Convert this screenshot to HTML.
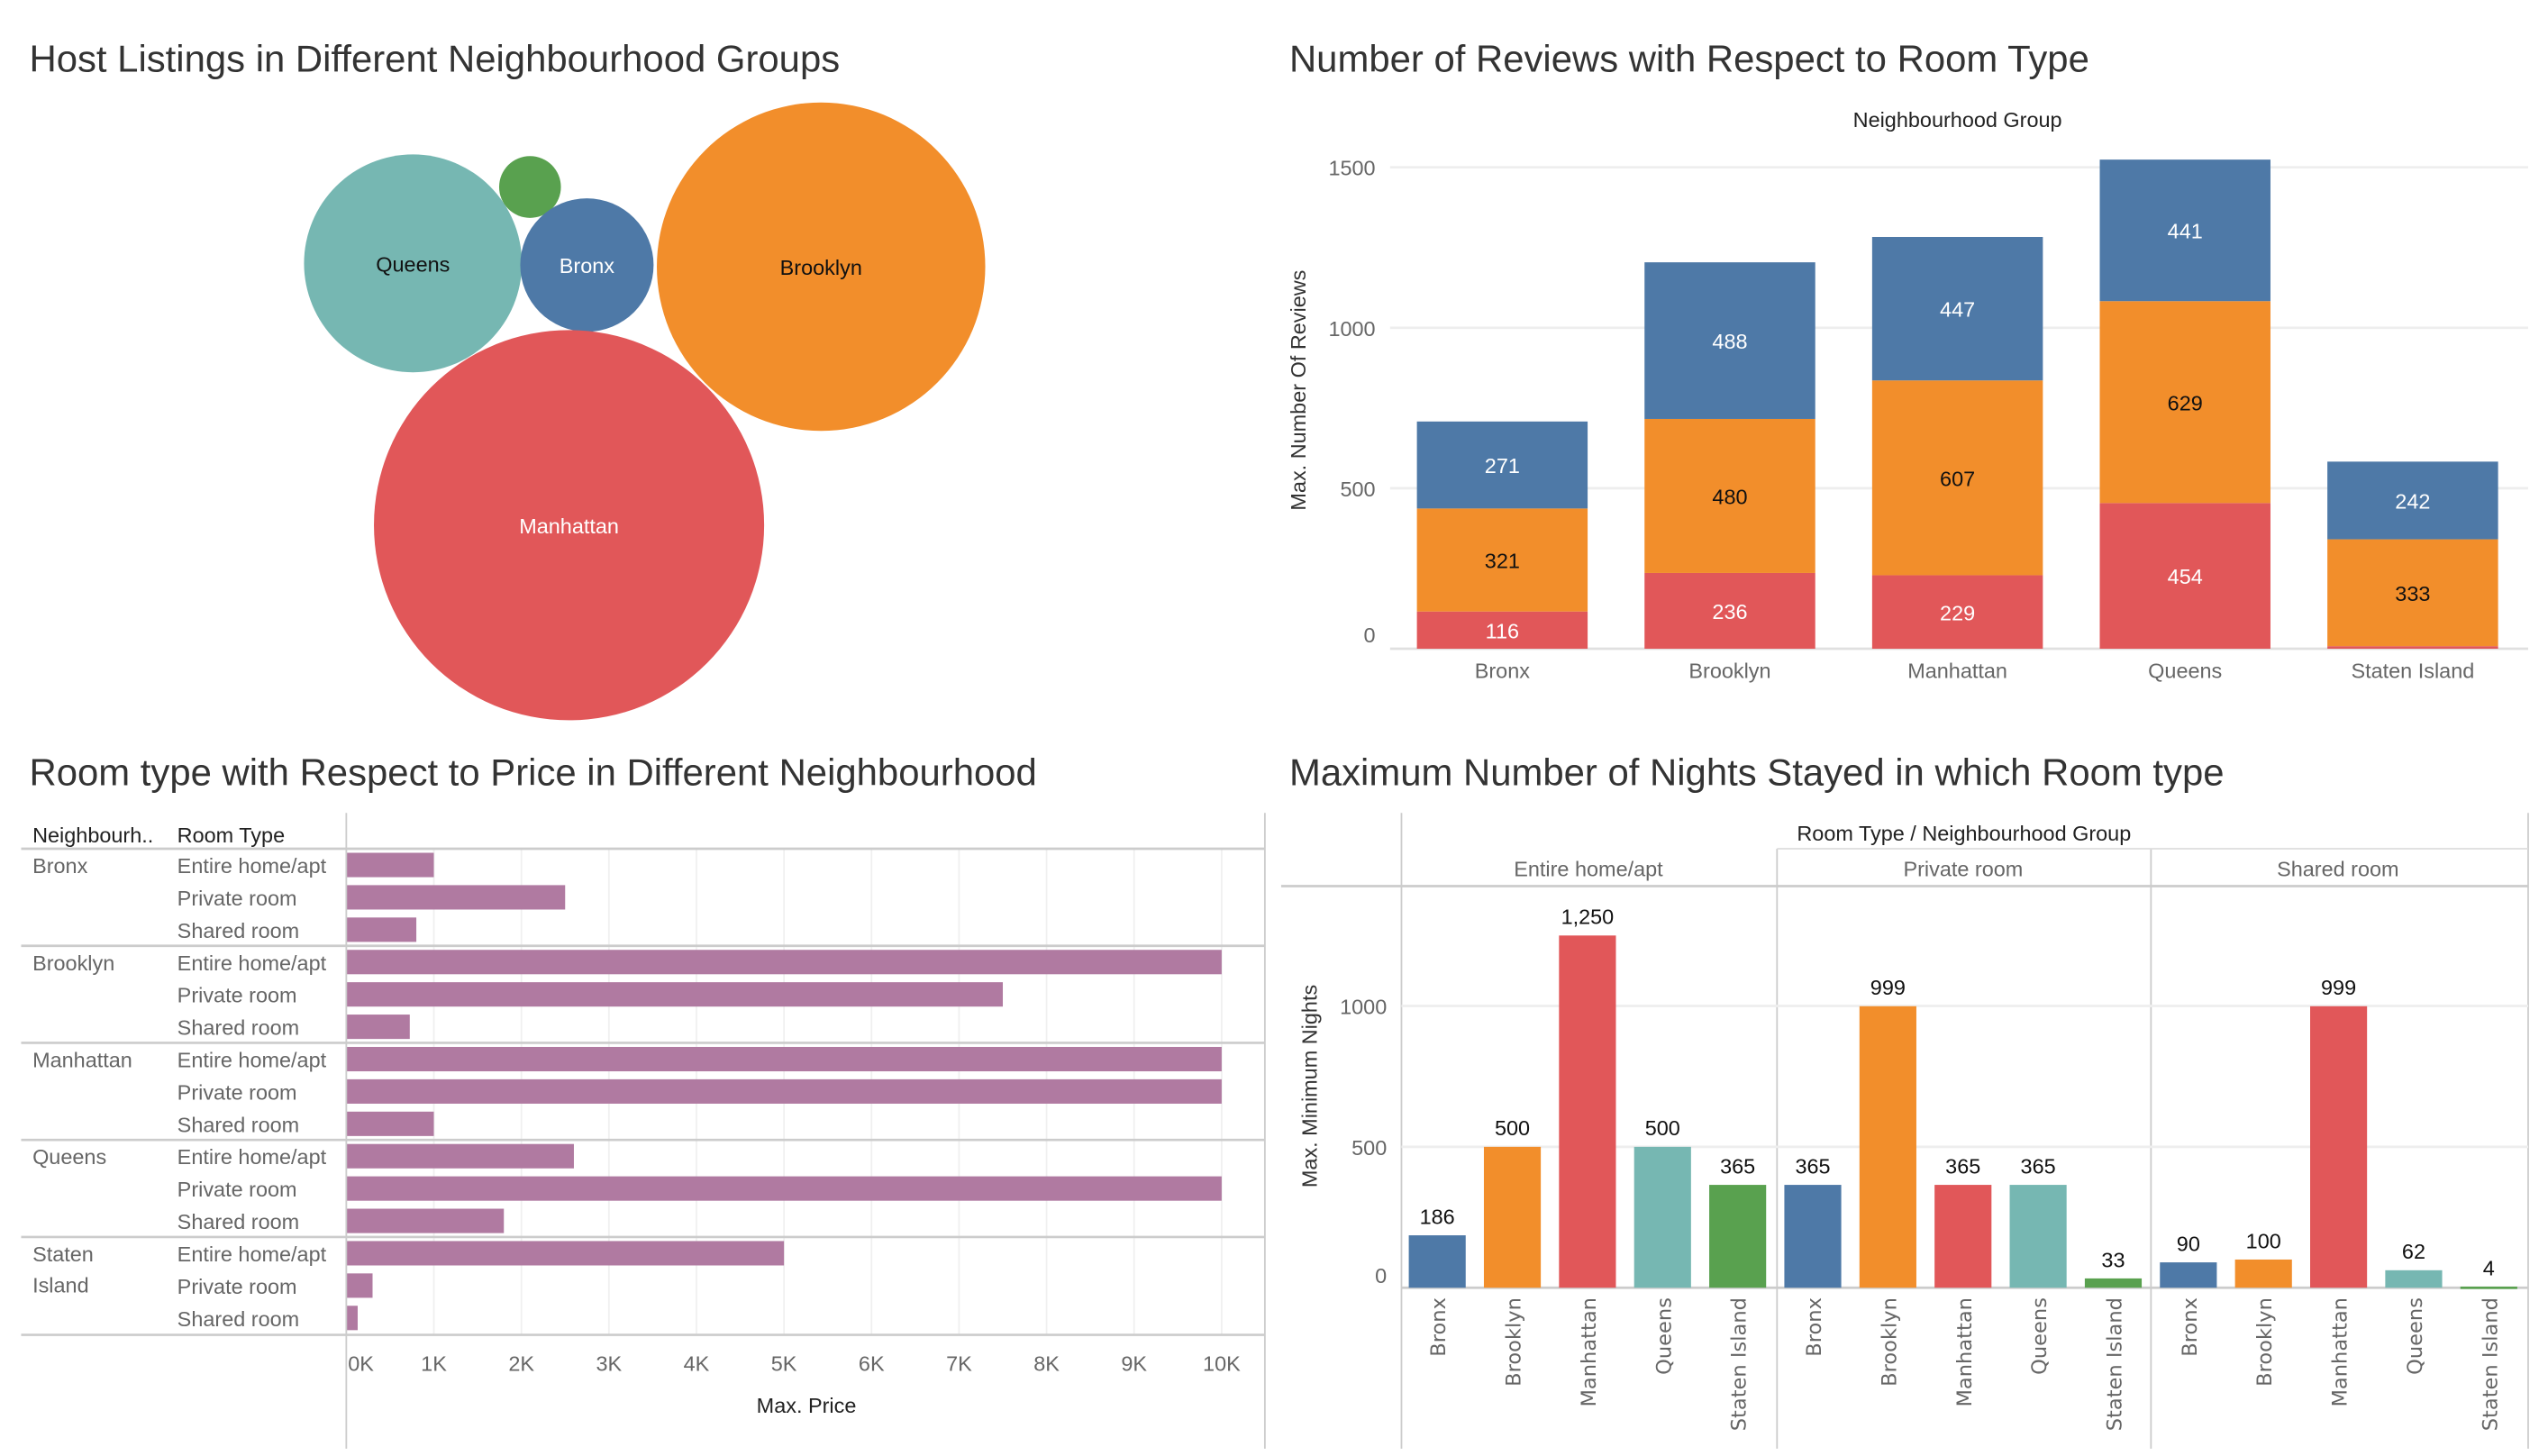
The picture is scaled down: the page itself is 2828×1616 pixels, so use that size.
<!DOCTYPE html>
<html><head><meta charset="utf-8"><style>
html,body{margin:0;padding:0;background:#fff;}
svg{display:block;font-family:"Liberation Sans",sans-serif;}
.title{font-size:23.2px;fill:#333;}
.tick{font-size:13px;fill:#666;}
.hdr{font-size:13px;fill:#222;}
</style></head><body>
<svg id="s" width="2828" height="1616" viewBox="0 0 1567.2 895.5" preserveAspectRatio="none" xmlns="http://www.w3.org/2000/svg">
<text class="title" x="18" y="44">Host Listings in Different Neighbourhood Groups</text>
<text class="title" x="793" y="44">Number of Reviews with Respect to Room Type</text>
<text class="title" x="18" y="483">Room type with Respect to Price in Different Neighbourhood</text>
<text class="title" x="793" y="483">Maximum Number of Nights Stayed in which Room type</text>
<g id="g"></g>
</svg>
<script>
// ---- data ----
const neighs = ['Bronx','Brooklyn','Manhattan','Queens','Staten Island'];
const colors = {'Bronx':'#4e79a7','Brooklyn':'#f28e2b','Manhattan':'#e15759','Queens':'#76b7b2','Staten Island':'#59a14f'};
// bubble
const bubbleNames = ['Queens','Staten Island','Bronx','Brooklyn','Manhattan'];
const bubbleRadius = [67,19,41,101,120];
// reviews stacked
const reviewsRed = [116,236,229,454,8];
const reviewsOrange = [321,480,607,629,333];
const reviewsBlue = [271,488,447,441,242];
const reviewTicks = [0,500,1000,1500];
// price
const roomTypes = ['Entire home/apt','Private room','Shared room'];
const priceBronx = [1000,2500,800];
const priceBrooklyn = [10000,7500,725];
const priceManhattan = [10000,10000,1000];
const priceQueens = [2600,10000,1800];
const priceStaten = [5000,300,130];
const priceTicks = [0,1,2,3,4,5,6,7,8,9,10];
// nights
const nightsEntire = [186,500,1250,500,365];
const nightsPrivate = [365,999,365,365,33];
const nightsShared = [90,100,999,62,4];
const nightsTicks = [0,500,1000];

const g=document.getElementById('g');const NS='http://www.w3.org/2000/svg';
function el(t,a,txt){const e=document.createElementNS(NS,t);for(const k in a)e.setAttribute(k,a[k]);if(txt!==undefined)e.textContent=txt;g.appendChild(e);return e;}

// ---- bubbles ----
const bubblePos=[[254,162],[326,115],[361,163],[505,164],[350,323]];
bubbleNames.forEach((n,i)=>{
 const c=el('circle',{cx:bubblePos[i][0],cy:bubblePos[i][1],r:bubbleRadius[i],fill:colors[n]});
 
 
 if(n!=='Staten Island'){const t=el('text',{x:bubblePos[i][0],y:bubblePos[i][1]+5,'text-anchor':'middle','font-size':13,fill:(n==='Queens'||n==='Brooklyn')?'#111':'#fff'},n);
 
 }
});

// ---- reviews chart ----
const ry=v=>399-v*0.1974; const rx=i=>924+i*140;
let t=el('text',{x:1204,y:78,'text-anchor':'middle',class:'hdr'},'Neighbourhood Group');

reviewTicks.forEach(v=>{
 const l=el('line',{x1:855,x2:1555,y1:ry(v),y2:ry(v),stroke:v?'#eeeeee':'#e0e0e0','stroke-width':1.5});
 
 const tt=el('text',{x:846,y:ry(v)+(v?5:-4),'text-anchor':'end',class:'tick'},v);
 
});
t=el('text',{x:0,y:0,transform:'translate(803,240) rotate(-90)','text-anchor':'middle','font-size':13,fill:'#333'},'Max. Number Of Reviews');

neighs.forEach((n,i)=>{
 let base=0;
 [[reviewsRed,'#e15759','#fff'],[reviewsOrange,'#f28e2b','#111'],[reviewsBlue,'#4e79a7','#fff']].forEach(([arr,col,tc])=>{
  const v=arr[i];const r=el('rect',{x:rx(i)-52.5,width:105,y:ry(base+v),height:v*0.1974,fill:col});
  
  if(v>50){const tx=el('text',{x:rx(i),y:ry(base+v/2)+5,'text-anchor':'middle','font-size':13,fill:tc},v);
  }
  base+=v;
 });
 const xl=el('text',{x:rx(i),y:417,'text-anchor':'middle',class:'tick'},n);
 
});

// ---- price chart ----
const px=v=>213+v*0.05384; const rowY=k=>532+k*19.9;
el('text',{x:20,y:518,class:'hdr'},'Neighbourh..');
el('text',{x:109,y:518,class:'hdr'},'Room Type');
priceTicks.forEach(k=>{
 const l=el('line',{x1:px(k*1000),x2:px(k*1000),y1:522,y2:821,stroke:'#f0f0f0','stroke-width':1});
 
 const tt=el('text',{x:k?px(k*1000):222,y:843,'text-anchor':'middle',class:'tick'},k+'K');
 
});
const priceAll=[priceBronx,priceBrooklyn,priceManhattan,priceQueens,priceStaten];
priceAll.forEach((arr,gi)=>{
 const sep=el('line',{x1:13,x2:778,y1:rowY(gi*3)-10,y2:rowY(gi*3)-10,stroke:'#ccc','stroke-width':1.5});
 
 if(gi<4){const nl=el('text',{x:20,y:rowY(gi*3)+5,class:'tick'},neighs[gi]);}
 else{el('text',{x:20,y:rowY(12)+5,class:'tick'},'Staten');el('text',{x:20,y:rowY(12)+24,class:'tick'},'Island');}
 arr.forEach((v,ri)=>{
  const y=rowY(gi*3+ri);
  const lt=el('text',{x:109,y:y+5,class:'tick'},roomTypes[ri]);
  const r=el('rect',{x:213,y:y-7.5,width:px(v)-213,height:15,fill:'#b07aa1'});
  
 });
});
el('line',{x1:13,x2:778,y1:821,y2:821,stroke:'#ccc','stroke-width':1.5});
el('line',{x1:213,x2:213,y1:500,y2:891,stroke:'#ccc'});
el('line',{x1:778,x2:778,y1:500,y2:891,stroke:'#ccc'});
t=el('text',{x:496,y:869,'text-anchor':'middle',class:'hdr'},'Max. Price');

// ---- nights chart ----
const ny=v=>792-v*0.1733; const nx=k=>884+k*46.2;
el('text',{x:1208,y:517,'text-anchor':'middle',class:'hdr'},'Room Type  /  Neighbourhood Group');
el('line',{x1:862,x2:862,y1:500,y2:891,stroke:'#ccc'});
el('line',{x1:1093,x2:1093,y1:522,y2:891,stroke:'#ccc'});
el('line',{x1:1323,x2:1323,y1:522,y2:891,stroke:'#ccc'});
el('line',{x1:1555,x2:1555,y1:500,y2:891,stroke:'#ccc'});
el('line',{x1:1093,x2:1555,y1:522,y2:522,stroke:'#ddd'});
el('line',{x1:788,x2:1555,y1:545,y2:545,stroke:'#ccc','stroke-width':1.5});
nightsTicks.forEach(v=>{
 el('line',{x1:862,x2:1555,y1:ny(v),y2:ny(v),stroke:v?'#eeeeee':'#ccc','stroke-width':1.5});
 const tt=el('text',{x:853,y:ny(v)+(v?5:-3),'text-anchor':'end',class:'tick'},v);
});
t=el('text',{x:0,y:0,transform:'translate(810,668) rotate(-90)','text-anchor':'middle','font-size':13,fill:'#333'},'Max. Minimum Nights');
[nightsEntire,nightsPrivate,nightsShared].forEach((arr,pi)=>{
 const h=el('text',{x:977+pi*230.5,y:539,'text-anchor':'middle',class:'tick'},roomTypes[pi]);
 arr.forEach((v,i)=>{
  const k=pi*5+i;const n=neighs[i];
  const r=el('rect',{x:nx(k)-17.5,width:35,y:ny(v),height:Math.max(v*0.1733,1.5),fill:colors[n]});
  
  const lbl=el('text',{x:nx(k),y:ny(v)-7,'text-anchor':'middle','font-size':13,fill:'#111'},v.toLocaleString('en-US'));
  
  const xl=el('text',{x:0,y:0,transform:`translate(${nx(k)+5},798) rotate(-90)`,'text-anchor':'end','font-size':12.5,fill:'#666','font-family':'DejaVu Sans, sans-serif'},n);
  
 });
});
</script>
</body></html>
